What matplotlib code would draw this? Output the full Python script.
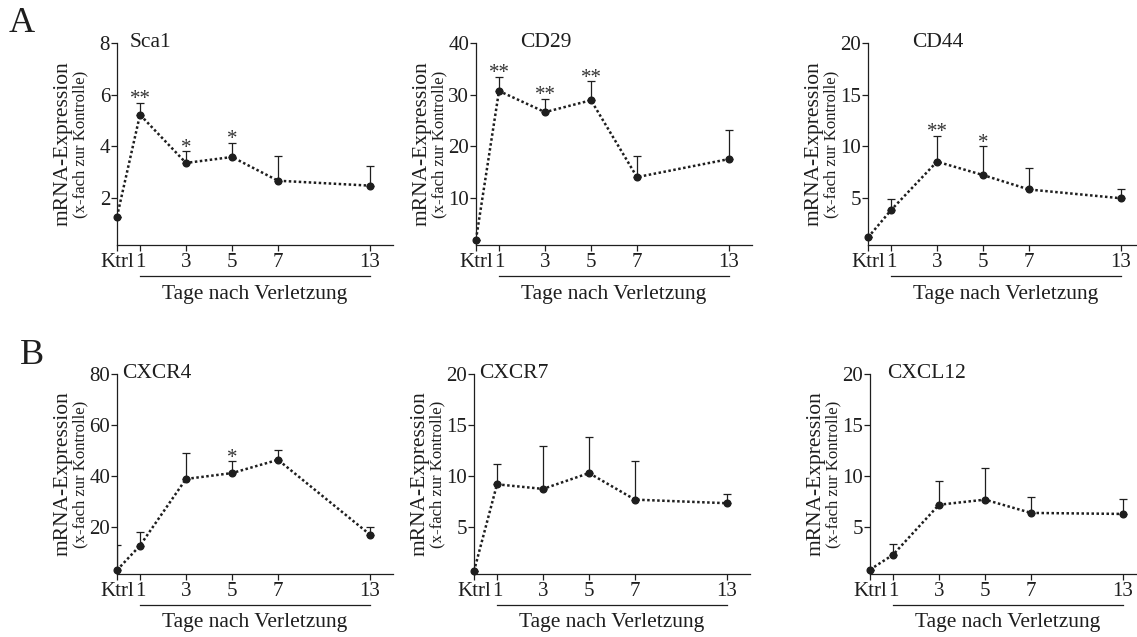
import numpy as np
import matplotlib
matplotlib.use("Agg")
import matplotlib.pyplot as plt
from matplotlib.transforms import blended_transform_factory, ScaledTranslation

# ---------------- data ----------------
x_labels = ["Ktrl", "1", "3", "5", "7", "13"]
x_pos = [0, 1, 3, 5, 7, 11]          # day 13 drawn compressed after day 7

genes = ["Sca1", "CD29", "CD44", "CXCR4", "CXCR7", "CXCL12"]

sca1_mean = [1.27, 5.22, 3.35, 3.58, 2.66, 2.47]
sca1_err = [0.0, 0.46, 0.45, 0.54, 0.94, 0.78]

cd29_mean = [1.9, 30.7, 26.6, 28.9, 14.0, 17.5]
cd29_err = [0.0, 2.8, 2.6, 3.7, 4.0, 5.7]

cd44_mean = [1.15, 3.8, 8.5, 7.2, 5.8, 4.95]
cd44_err = [0.0, 1.05, 2.5, 2.8, 2.1, 0.85]

cxcr4_mean = [3.2, 12.8, 38.9, 41.2, 46.4, 17.1]
cxcr4_err = [9.8, 5.4, 10.1, 4.6, 3.8, 3.0]

cxcr7_mean = [0.7, 9.2, 8.75, 10.3, 7.7, 7.35]
cxcr7_err = [0.0, 2.0, 4.25, 3.5, 3.75, 0.95]

cxcl12_mean = [0.85, 2.3, 7.2, 7.7, 6.4, 6.3]
cxcl12_err = [0.0, 1.05, 2.3, 3.1, 1.6, 1.45]

y_ticks = [[2, 4, 6, 8], [10, 20, 30, 40], [5, 10, 15, 20],
           [20, 40, 60, 80], [5, 10, 15, 20], [5, 10, 15, 20]]
y_tops = [8, 40, 20, 80, 20, 20]

# significance marks: index -> label
stars = [{1: "**", 2: "*", 3: "*"},
         {1: "**", 2: "**", 3: "**"},
         {2: "**", 3: "*"},
         {3: "*"},
         {},
         {}]

means = [sca1_mean, cd29_mean, cd44_mean, cxcr4_mean, cxcr7_mean, cxcl12_mean]
errs = [sca1_err, cd29_err, cd44_err, cxcr4_err, cxcr7_err, cxcl12_err]

ylabel_main = "mRNA-Expression"
ylabel_sub = "(x-fach zur Kontrolle)"
xlabel = "Tage nach Verletzung"

# ---------------- layout ----------------
W, H = 1137, 637
plt.rcParams['font.family'] = ['Liberation Serif', 'DejaVu Serif']
plt.rcParams['text.color'] = '#1e1e1e'
fig = plt.figure(figsize=(W / 100, H / 100), dpi=100)

ax_left_px = [117, 476, 868, 117, 474, 870]
ax_top_px = [43, 43, 43, 374, 374, 374]
ax_bot_px = [245, 245, 245, 574, 574, 574]
ax_w_px = 276
title_off_px = [13, 44, 44, 5, 5, 17]

ink = '#1e1e1e'

for i in range(6):
    l = ax_left_px[i] / W
    b = 1 - ax_bot_px[i] / H
    h = (ax_bot_px[i] - ax_top_px[i]) / H
    ax = fig.add_axes([l, b, ax_w_px / W, h])
    ax.set_facecolor('none')

    m = np.array(means[i])
    e = np.array(errs[i])
    # upper error bars only
    ax.errorbar(x_pos, m, yerr=[np.zeros_like(e), e], fmt='none',
                ecolor=ink, elinewidth=0.9, capsize=2.8, capthick=0.9, zorder=2)
    ax.plot(x_pos, m, linestyle=(0, (1.0, 1.0)), color=ink, linewidth=1.8,
            marker='o', markersize=4.8, markerfacecolor=ink,
            markeredgecolor=ink, clip_on=False, zorder=3)

    ax.set_xlim(0, 12)
    ax.set_ylim(0.021 * y_tops[i], y_tops[i])
    ax.set_xticks(x_pos)
    ax.set_xticklabels(x_labels)
    ax.set_yticks(y_ticks[i])
    ax.set_yticklabels([str(t) for t in y_ticks[i]])

    for s in ['top', 'right']:
        ax.spines[s].set_visible(False)
    for s in ['left', 'bottom']:
        ax.spines[s].set_linewidth(0.9)
        ax.spines[s].set_color(ink)
    ax.tick_params(axis='both', labelsize=15, length=4, width=0.9,
                   color=ink, labelcolor=ink, direction='out')
    ax.tick_params(axis='y', pad=1)
    ax.tick_params(axis='x', pad=1.5)

    # significance stars
    for idx, lab in stars[i].items():
        ax.annotate(lab, xy=(x_pos[idx], m[idx] + e[idx]), xycoords='data',
                    xytext=(0, -1.0), textcoords='offset points',
                    ha='center', va='baseline', fontsize=15, color='#333333')

    # gene title
    ax.annotate(genes[i], xy=(0, 1), xycoords='axes fraction',
                xytext=(title_off_px[i] * 0.72, 0), textcoords='offset points',
                ha='left', va='center', fontsize=15.5)

    # y labels
    ax.annotate(ylabel_main, xy=(0, 0.5), xycoords='axes fraction',
                xytext=(-54 * 0.72, 0), textcoords='offset points',
                rotation=90, ha='center', va='center', fontsize=15.5)
    ax.annotate(ylabel_sub, xy=(0, 0.5), xycoords='axes fraction',
                xytext=(-37 * 0.72, 0), textcoords='offset points',
                rotation=90, ha='center', va='center', fontsize=12)

    # underline and x label
    base = blended_transform_factory(ax.transData, ax.transAxes)
    t_line = base + ScaledTranslation(0, -31 / 100, fig.dpi_scale_trans)
    t_text = base + ScaledTranslation(0, -49 / 100, fig.dpi_scale_trans)
    ax.plot([x_pos[1], x_pos[-1]], [0, 0], transform=t_line, color=ink,
            linewidth=0.9, clip_on=False)
    ax.text((x_pos[1] + x_pos[-1]) / 2, 0, xlabel, transform=t_text,
            ha='center', va='center', fontsize=15.5)

fig.text(22 / W, 1 - 24 / H, "A", ha='center', va='center', fontsize=26)
fig.text(32 / W, 1 - 355 / H, "B", ha='center', va='center', fontsize=26)

fig.savefig("out.png", dpi=100)
